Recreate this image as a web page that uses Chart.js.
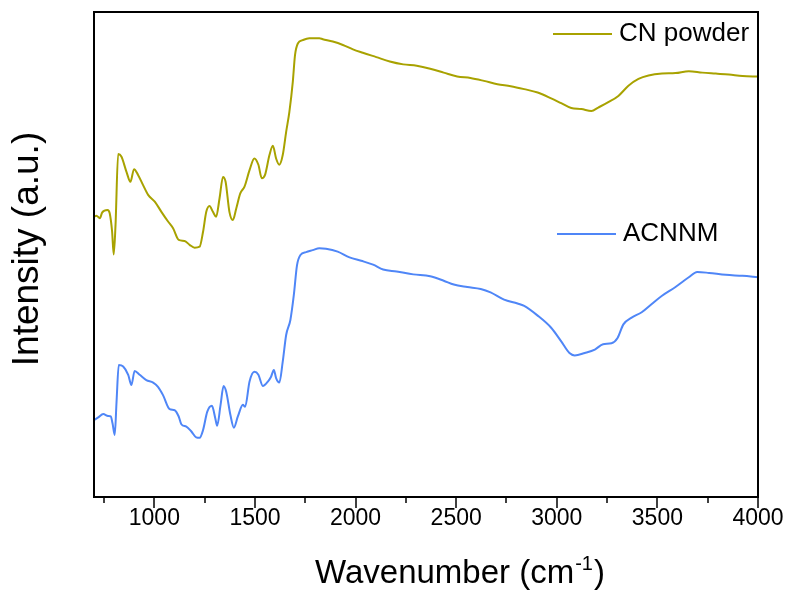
<!DOCTYPE html>
<html>
<head>
<meta charset="utf-8">
<script src="https://cdn.jsdelivr.net/npm/chart.js@4"></script>
<style>
  body { margin: 0; background: #fff; }
  canvas { display: block; }
</style>
</head>
<body>
<canvas id="ftirChart" width="793" height="591"></canvas>
<script>
// FTIR spectra, intensity in arbitrary units (0-100 of the plot height)
const cnWavenumber = [700, 712, 729, 741, 767, 778, 790, 798, 807, 820, 836, 861, 881, 899, 919, 944,
  969, 1002, 1035, 1068, 1093, 1121, 1150, 1175, 1200, 1225, 1242, 1258, 1274, 1291, 1307, 1324, 1341,
  1354, 1373, 1390, 1407, 1427, 1448, 1473, 1497, 1517, 1534, 1550, 1572, 1589, 1605, 1621, 1638, 1655,
  1671, 1688, 1699, 1713, 1737, 1770, 1820, 1837, 1887, 1937, 1987, 2036, 2103, 2170, 2237, 2304, 2371,
  2438, 2505, 2571, 2638, 2705, 2771, 2838, 2905, 2972, 3022, 3072, 3122, 3172, 3206, 3256, 3306, 3356,
  3406, 3456, 3523, 3590, 3656, 3723, 3790, 3856, 3923, 4000];
const cnIntensity = [57.8, 58.0, 57.5, 58.7, 59.2, 58.5, 54.7, 50.0, 56.1, 70.7, 70.2, 67.1, 65.0, 67.6,
  66.4, 64.3, 62.3, 60.9, 58.8, 56.8, 55.4, 53.0, 52.8, 52.0, 51.4, 51.6, 54.7, 58.8, 60.0, 58.8, 57.8,
  61.6, 66.0, 65.0, 58.8, 57.1, 59.5, 62.6, 64.0, 67.4, 69.8, 68.5, 65.7, 66.4, 70.5, 72.4, 69.8, 68.5,
  70.5, 75.3, 79.4, 85.6, 91.1, 93.5, 94.2, 94.6, 94.6, 94.4, 93.9, 93.2, 92.3, 91.6, 90.7, 89.8, 89.2,
  88.9, 88.3, 87.5, 86.7, 86.4, 85.8, 85.1, 84.7, 84.1, 83.4, 82.2, 81.2, 80.2, 80.0, 79.6, 80.3, 81.4,
  82.7, 84.8, 86.2, 86.9, 87.3, 87.4, 87.8, 87.5, 87.3, 87.1, 86.8, 86.7];

const acnnmWavenumber = [701, 721, 746, 770, 783, 792, 803, 812, 823, 845, 870, 886, 902, 927, 960, 994,
  1018, 1043, 1076, 1101, 1121, 1134, 1159, 1184, 1208, 1225, 1242, 1263, 1286, 1303, 1312, 1329, 1344,
  1357, 1378, 1395, 1415, 1440, 1451, 1473, 1497, 1517, 1539, 1564, 1580, 1594, 1605, 1621, 1638, 1655,
  1676, 1693, 1709, 1726, 1754, 1787, 1820, 1853, 1911, 1970, 2028, 2087, 2137, 2204, 2287, 2371, 2438,
  2488, 2555, 2622, 2671, 2738, 2805, 2838, 2905, 2972, 3022, 3063, 3089, 3139, 3189, 3230, 3272, 3302,
  3331, 3372, 3422, 3472, 3523, 3590, 3656, 3698, 3757, 3840, 3923, 4000];
const acnnmIntensity = [15.9, 16.4, 17.1, 16.7, 16.6, 15.2, 12.8, 19.6, 27.2, 26.9, 25.2, 23.1, 26.0,
  25.2, 24.1, 23.6, 22.7, 21.0, 18.1, 17.9, 16.6, 15.0, 14.5, 13.5, 12.3, 12.2, 13.8, 17.6, 18.8, 16.2,
  14.7, 19.0, 22.9, 21.7, 16.9, 14.3, 16.6, 19.0, 18.6, 23.8, 25.8, 25.2, 22.9, 23.8, 24.8, 26.2, 24.5,
  23.6, 27.9, 33.4, 36.5, 41.6, 47.8, 49.9, 50.5, 50.9, 51.3, 51.2, 50.6, 49.4, 48.7, 47.9, 46.9, 46.5,
  45.9, 45.5, 44.6, 43.8, 43.3, 42.9, 42.2, 40.7, 39.9, 39.4, 37.4, 34.9, 32.1, 29.7, 29.2, 29.7, 30.4,
  31.5, 31.7, 32.8, 35.6, 37.0, 38.1, 39.8, 41.5, 43.3, 45.3, 46.4, 46.2, 45.8, 45.6, 45.3];

const seriesNames = ['CN powder', 'ACNNM'];
const xMajorTicks = [1000, 1500, 2000, 2500, 3000, 3500, 4000];
const xMinorTicks = [750, 1250, 1750, 2250, 2750, 3250, 3750];
const xMin = 700, xMax = 4000;
const xTitle = ['Wavenumber (cm', '-1', ')'];
const yTitle = 'Intensity (a.u.)';

const FONT = "'Liberation Sans', Arial, sans-serif";
const OLIVE = '#a8a200';
const BLUE = '#4f86f7';

const toPoints = (xs, ys) => xs.map((x, i) => ({ x: x, y: ys[i] }));

// frame, tick marks, axis titles and the two free-standing legend entries
const decorations = {
  id: 'decorations',
  afterDraw(chart) {
    const { ctx, chartArea: a } = chart;
    const xs = chart.scales.x;
    ctx.save();
    ctx.strokeStyle = '#000';
    ctx.lineWidth = 2;
    ctx.strokeRect(a.left, a.top, a.right - a.left, a.bottom - a.top);

    ctx.lineWidth = 1.5;
    const tick = (v, len) => {
      const px = Math.round(xs.getPixelForValue(v));
      ctx.beginPath();
      ctx.moveTo(px, a.bottom);
      ctx.lineTo(px, a.bottom + len);
      ctx.stroke();
    };
    xMajorTicks.forEach(v => tick(v, 11));
    xMinorTicks.forEach(v => tick(v, 6));

    // x title with superscript
    ctx.fillStyle = '#000';
    ctx.textBaseline = 'alphabetic';
    ctx.textAlign = 'left';
    const big = '33px ' + FONT, small = '20px ' + FONT;
    ctx.font = big;
    const w0 = ctx.measureText(xTitle[0]).width;
    const w2 = ctx.measureText(xTitle[2]).width;
    ctx.font = small;
    const w1 = ctx.measureText(xTitle[1]).width;
    let tx = 460 - (w0 + w1 + w2 + 2) / 2;
    const ty = 583;
    ctx.font = big;
    ctx.fillText(xTitle[0], tx, ty);
    tx += w0 + 1;
    ctx.font = small;
    ctx.fillText(xTitle[1], tx, ty - 13);
    tx += w1 + 1;
    ctx.font = big;
    ctx.fillText(xTitle[2], tx, ty);

    // y title
    ctx.save();
    ctx.translate(28, 249);
    ctx.rotate(-Math.PI / 2);
    ctx.font = '37px ' + FONT;
    ctx.textAlign = 'center';
    ctx.textBaseline = 'middle';
    ctx.fillText(yTitle, 0, 0);
    ctx.restore();

    const entries = [
      { text: seriesNames[0], color: OLIVE, x: 553, y: 34 },
      { text: seriesNames[1], color: BLUE, x: 557, y: 234 }
    ];
    ctx.font = '26px ' + FONT;
    ctx.textBaseline = 'middle';
    ctx.textAlign = 'left';
    entries.forEach(e => {
      ctx.strokeStyle = e.color;
      ctx.lineWidth = 2;
      ctx.beginPath();
      ctx.moveTo(e.x, e.y);
      ctx.lineTo(e.x + 59, e.y);
      ctx.stroke();
      ctx.fillStyle = '#000';
      ctx.fillText(e.text, e.x + 66, e.y);
    });
    ctx.restore();
  }
};

new Chart(document.getElementById('ftirChart'), {
  type: 'line',
  data: {
    datasets: [
      {
        label: seriesNames[0],
        data: toPoints(cnWavenumber, cnIntensity),
        borderColor: OLIVE,
        borderWidth: 2,
        pointRadius: 0,
        cubicInterpolationMode: 'monotone'
      },
      {
        label: seriesNames[1],
        data: toPoints(acnnmWavenumber, acnnmIntensity),
        borderColor: BLUE,
        borderWidth: 2,
        pointRadius: 0,
        cubicInterpolationMode: 'monotone'
      }
    ]
  },
  options: {
    responsive: false,
    animation: false,
    layout: { padding: { top: 12, right: 35, left: 0, bottom: 0 } },
    plugins: {
      legend: { display: false },
      tooltip: { enabled: false }
    },
    scales: {
      x: {
        type: 'linear',
        min: xMin,
        max: xMax,
        grid: { display: false, drawTicks: false },
        border: { display: false },
        afterBuildTicks: s => { s.ticks = xMajorTicks.map(v => ({ value: v })); },
        ticks: {
          autoSkip: false,
          maxRotation: 0,
          padding: 8,
          color: '#000',
          font: { family: FONT, size: 23 },
          callback: v => String(v)
        },
        afterFit: s => { s.height = 94; }
      },
      y: {
        min: 0,
        max: 100,
        grid: { display: false, drawTicks: false },
        border: { display: false },
        ticks: { display: false },
        afterFit: s => { s.width = 94; }
      }
    }
  },
  plugins: [decorations]
});
</script>
</body>
</html>
